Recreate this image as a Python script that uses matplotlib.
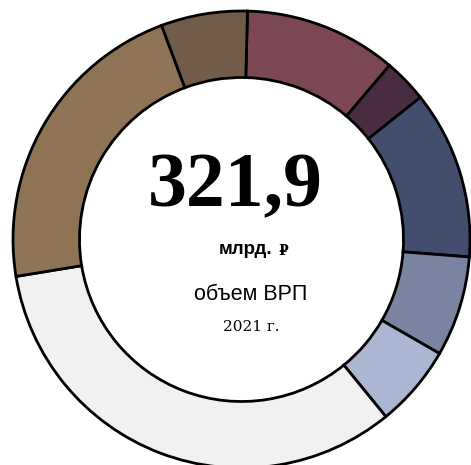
import matplotlib
matplotlib.use("Agg")
import matplotlib.pyplot as plt

# доли сегментов ВРП (%), по часовой стрелке от верха
shares = [10.8, 3.1, 11.9, 7.1, 5.8, 33.3, 21.9, 6.1]
colors = ["#7b4753", "#472c42", "#434d6e", "#7a839f",
          "#abb6d2", "#f1f1f1", "#8e7454", "#715c4a"]
total = "321,9"
unit = "млрд."
currency = "₽"
caption = "объем ВРП"
year = "2021 г."

W, H = 471, 465
DPI = 100

fig = plt.figure(figsize=(W / DPI, H / DPI), dpi=DPI)
ax = fig.add_axes([0, 0, 1, 1])

cx, cy = 241.5, H - 239.5
r_out, r_in = 228.5, 162

ax.pie(shares, colors=colors, startangle=88.5, counterclock=False,
       center=(cx, cy), radius=r_out, frame=True,
       wedgeprops=dict(width=r_out - r_in, edgecolor="black", linewidth=2))
ax.set_xlim(0, W)
ax.set_ylim(0, H)
ax.set_aspect("equal")
ax.axis("off")

# центр
ax.text(235, H - 188, total, fontsize=56, fontweight="bold",
        family=["Liberation Serif", "DejaVu Serif"],
        ha="center", va="center", color="black")
ax.text(246, H - 250, unit, fontsize=13.5, fontweight="bold",
        family=["Liberation Sans", "DejaVu Sans"],
        ha="center", va="center", color="black")
ax.text(283, H - 251, currency, fontsize=10, fontweight="bold",
        family=["DejaVu Serif"],
        ha="center", va="center", color="black")
ax.text(251, H - 294, caption, fontsize=15.5,
        family=["Liberation Sans", "DejaVu Sans"],
        ha="center", va="center", color="black")
ax.text(251, H - 327, year, fontsize=11,
        family=["DejaVu Serif"],
        ha="center", va="center", color="black")

plt.savefig("out.png", dpi=DPI, facecolor="white")
plt.close(fig)
